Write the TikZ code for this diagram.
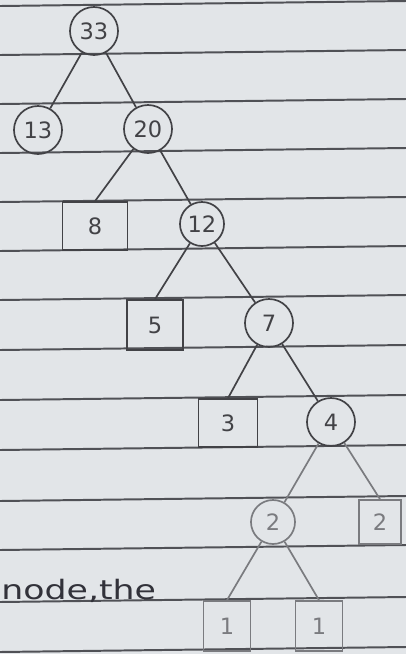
\documentclass[tikz,border=0pt]{standalone}
\usepackage{fontspec}
\setmainfont{DejaVu Sans}
\usepackage{tikz}
\definecolor{paper}{RGB}{226,229,232}
\definecolor{rule}{RGB}{80,81,86}
\definecolor{pencil}{RGB}{66,66,70}
\definecolor{pencilfaint}{RGB}{122,123,127}
\definecolor{ink}{RGB}{50,50,58}
\tikzset{
  hcirc/.style={circle,draw=pencil,line width=1.2pt,minimum size=1.2cm,inner sep=0pt,text=pencil},
  hleaf/.style={rectangle,draw=pencil,line width=1.2pt,minimum height=1.2cm,inner sep=0pt,text=pencil},
  hedge/.style={draw=pencil,line width=1.2pt},
  hfaint/.style={draw=pencilfaint,text=pencilfaint},
  ruling/.style={rule,line width=1.4pt}
}

\begin{document}
\begin{tikzpicture}[x=0.025cm,y=-0.025cm,font=\fontsize{16}{16}\selectfont]
  \fill[paper] (0,0) rectangle (406,654);
  \useasboundingbox (0,0) rectangle (406,654);
  \clip (0,0) rectangle (406,654);
  % ruled paper
  \foreach \ry in {4,53,102,151,200,249,298,348,398,448,499,548,600,650}
    \draw[ruling] (0,\ry+2) -- (406,\ry-3);
  % tree
  \node[hcirc] (n33) at (94,31) {33};
  \node[hcirc] (n13) at (38,130) {13};
  \node[hcirc] (n20) at (148,129) {20};
  \node[hleaf,minimum width=1.62cm] (n8) at (95,226) {8};
  \node[hcirc,minimum size=1.1cm] (n12) at (202,224) {12};
  \node[hleaf,minimum width=1.4cm,minimum height=1.25cm] (n5) at (155,325) {5};
  \node[hcirc] (n7) at (269,323) {7};
  \node[hleaf,minimum width=1.48cm] (n3) at (228,423) {3};
  \node[hcirc] (n4) at (331,422) {4};
  \node[hcirc,hfaint,minimum size=1.1cm] (n2a) at (273,522) {2};
  \node[hleaf,hfaint,minimum width=1.05cm,minimum height=1.1cm] (n2b) at (380,522) {2};
  \node[hleaf,hfaint,minimum width=1.18cm,minimum height=1.25cm] (n1a) at (227,626) {1};
  \node[hleaf,hfaint,minimum width=1.18cm,minimum height=1.25cm] (n1b) at (319,626) {1};
  \draw[hedge] (n33) -- (n13);
  \draw[hedge] (n33) -- (n20);
  \draw[hedge] (n20) -- (n8.north);
  \draw[hedge] (n20) -- (n12);
  \draw[hedge] (n12) -- (n5.north);
  \draw[hedge] (n12) -- (n7);
  \draw[hedge] (n7) -- (n3.north);
  \draw[hedge] (n7) -- (n4);
  \draw[hedge,hfaint] (n4) -- (n2a);
  \draw[hedge,hfaint] (n4) -- (n2b.north);
  \draw[hedge,hfaint] (n2a) -- (n1a.north);
  \draw[hedge,hfaint] (n2a) -- (n1b.north);
  % text running into the picture
  \node[anchor=base west,text=ink,font=\fontsize{19}{19}\selectfont,xscale=1.3,inner sep=0pt] (txt) at (1,599) {node,the};
\end{tikzpicture}
\end{document}
